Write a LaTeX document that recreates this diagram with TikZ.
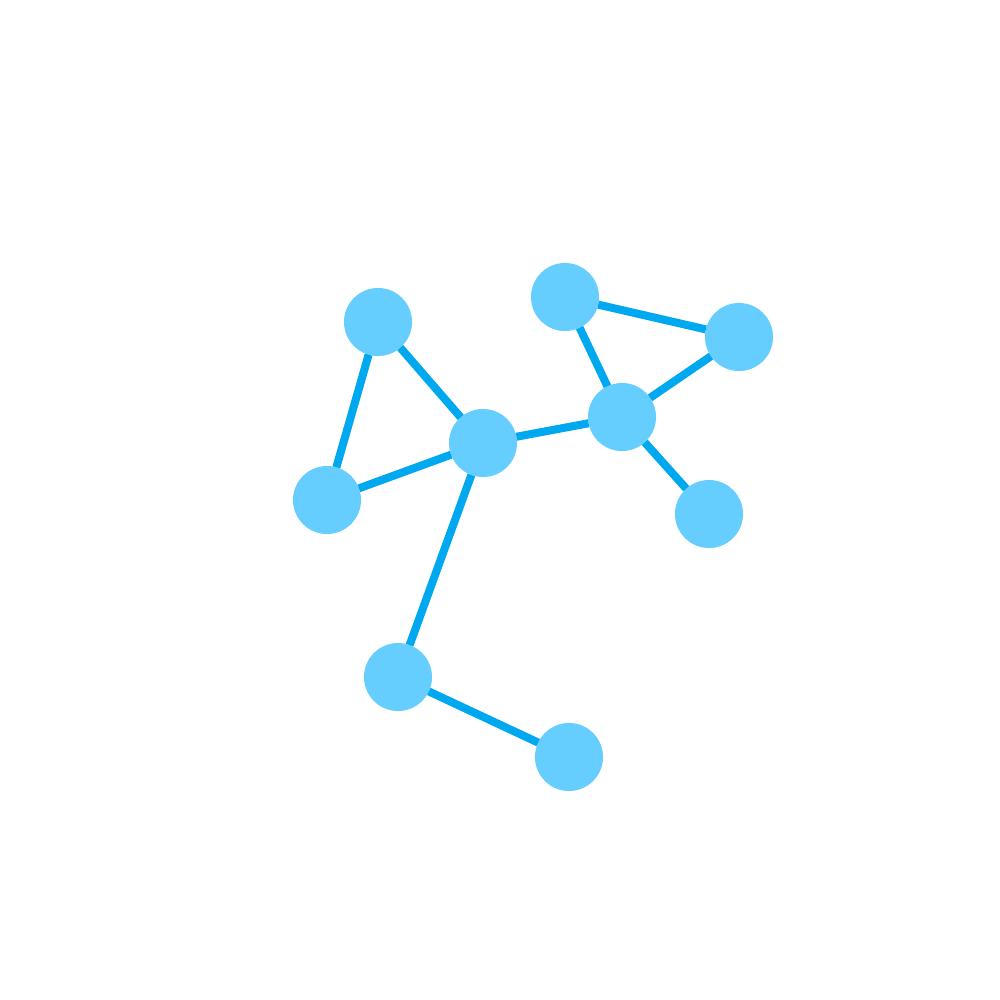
\documentclass[tikz,border=0pt]{standalone}
\usepackage{xcolor}
\usepackage{tikz}
\definecolor{atomfill}{HTML}{66CDFF}
\definecolor{bondblue}{HTML}{00A8F0}

\begin{document}
\begin{tikzpicture}[x=0.01cm,y=-0.01cm,
  atom/.style={circle,fill=atomfill,minimum size=0.68cm,inner sep=0pt,outer sep=0pt},
  bond/.style={draw=bondblue,line width=0.08cm}]
  \useasboundingbox[fill=white] (0,0) rectangle (1000,1000);
  % atoms
  \node[atom] (a1) at (378,322) {};
  \node[atom] (a2) at (327,500) {};
  \node[atom] (a3) at (483,443) {};
  \node[atom] (a4) at (565,297) {};
  \node[atom] (a5) at (739,337) {};
  \node[atom] (a6) at (622,417) {};
  \node[atom] (a7) at (709,514) {};
  \node[atom] (a8) at (398,677) {};
  \node[atom] (a9) at (569,757) {};
  % bonds
  \foreach \u/\v in {a1/a2,a1/a3,a2/a3,a3/a6,a3/a8,a4/a6,a4/a5,a5/a6,a6/a7,a8/a9}
    \draw[bond] (\u) -- (\v);
\end{tikzpicture}
\end{document}
